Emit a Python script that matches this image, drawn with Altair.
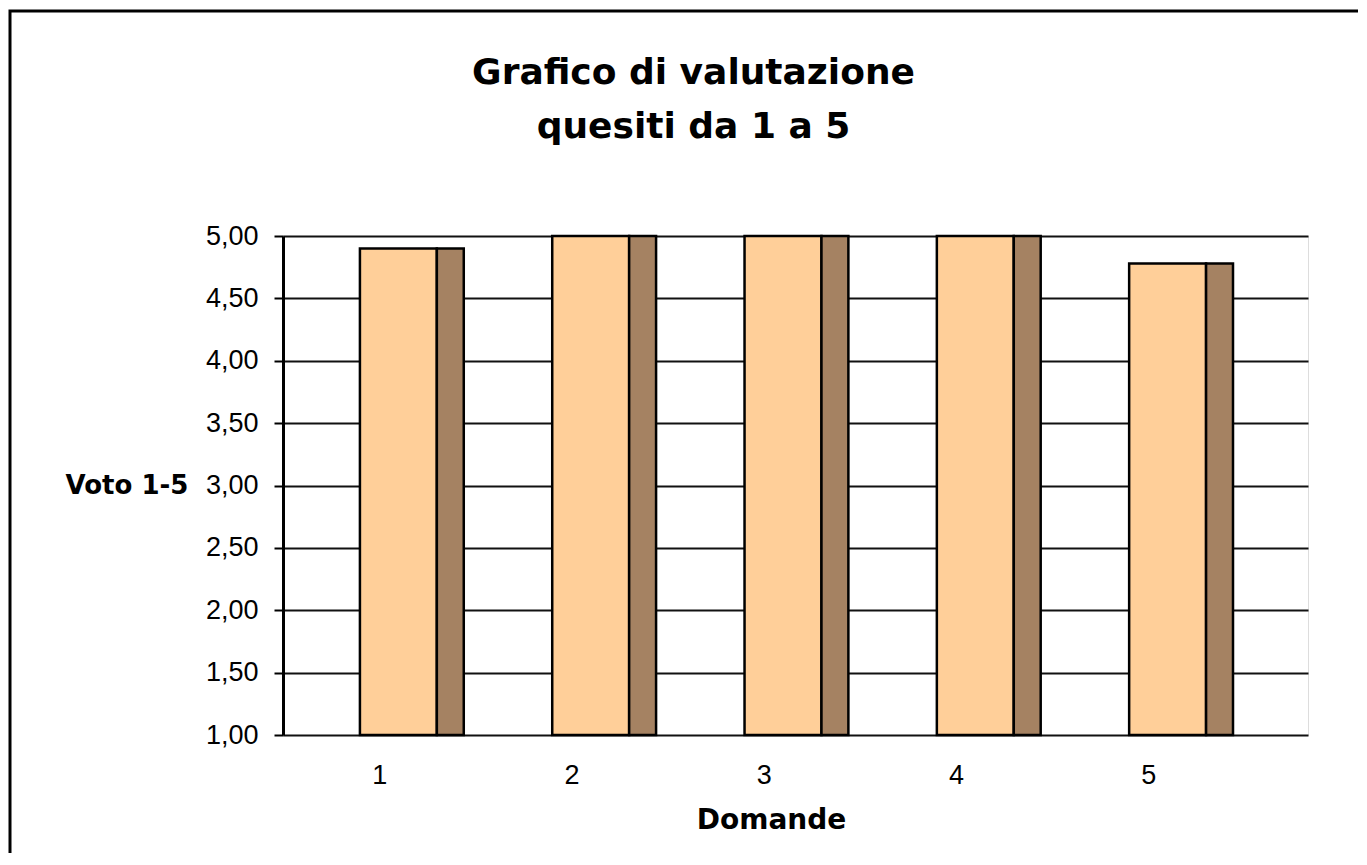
import altair as alt
import pandas as pd

domande = [1, 2, 3, 4, 5]
voti = [4.90, 5.00, 5.00, 5.00, 4.78]
y_ticks = [1.0, 1.5, 2.0, 2.5, 3.0, 3.5, 4.0, 4.5, 5.0]

df = pd.DataFrame({"d": domande, "v": voti})
df["base"] = 1.0
df["f0"] = df["d"] - 0.10
df["f1"] = df["d"] + 0.30
df["s1"] = df["d"] + 0.44

xscale = alt.Scale(domain=[0.5, 5.83], nice=False, zero=False)
yscale = alt.Scale(domain=[1, 5], nice=False, zero=False)

xaxis = alt.Axis(values=domande, format="d", grid=False, domain=False, ticks=False,
                 labelFont="Liberation Sans", labelFontSize=27, labelColor="black",
                 labelPadding=27, title="Domande", titleFont="DejaVu Sans",
                 titleFontWeight="bold", titleFontSize=28, titleColor="black",
                 titleX=488, titleY=85, titleBaseline="middle")
yaxis = alt.Axis(values=y_ticks, labelExpr="replace(format(datum.value, '.2f'), '.', ',')",
                 grid=True, gridColor="#111111", gridWidth=2,
                 domain=True, domainColor="black", domainWidth=3,
                 tickColor="black", tickSize=9, tickWidth=2,
                 labelFont="Liberation Sans", labelFontSize=27, labelColor="black",
                 labelPadding=16, title="Voto 1-5", titleAngle=0,
                 titleFont="DejaVu Sans", titleFontWeight="bold", titleFontSize=26,
                 titleColor="black", titleX=-218, titleY=249, titleAlign="left",
                 titleBaseline="middle")

base = alt.Chart(df)

front = base.mark_rect(fill="#FFCF99", stroke="black", strokeWidth=2.5).encode(
    x=alt.X("f0:Q", scale=xscale, axis=xaxis),
    x2="f1:Q",
    y=alt.Y("base:Q", scale=yscale, axis=yaxis),
    y2="v:Q",
)
side = base.mark_rect(fill="#A58262", stroke="black", strokeWidth=2.5).encode(
    x=alt.X("f1:Q", scale=xscale),
    x2="s1:Q",
    y=alt.Y("base:Q", scale=yscale),
    y2="v:Q",
)
border = alt.Chart(pd.DataFrame({"k": [0]})).mark_rect(
    fill=None, stroke="black", strokeWidth=3, clip=False
).encode(
    x=alt.value(-273), x2=alt.value(1400), y=alt.value(-225), y2=alt.value(900)
)

chart = alt.layer(border, front, side).properties(
    width=1025, height=499,
    autosize=alt.AutoSizeParams(type="none"),
    padding={"left": 275, "top": 228, "right": 50, "bottom": 118},
    title=alt.TitleParams(
        text=["Grafico di valutazione", "quesiti da 1 a 5"],
        font="DejaVu Sans", fontSize=36, fontWeight="bold", color="black",
        lineHeight=54, anchor="middle", frame="group", dx=-102, offset=-136,
    ),
).configure_view(stroke=None).configure(background="white")

chart.save("out.html", embed_options={"renderer": "svg", "actions": False})
